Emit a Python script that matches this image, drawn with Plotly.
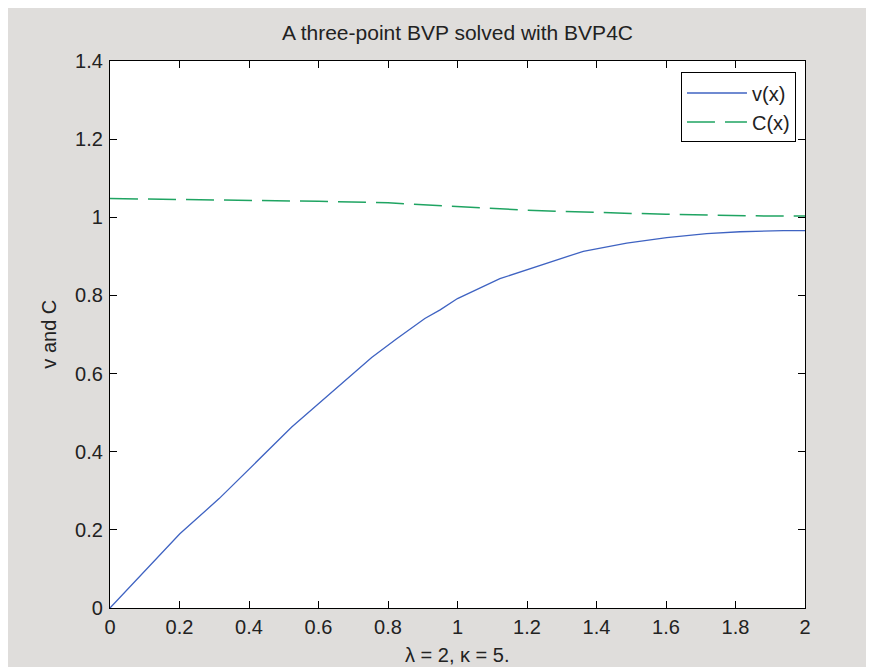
import plotly.graph_objects as go

# ---- data ----
x_v = [0, 0.062, 0.201, 0.314, 0.436, 0.523, 0.595, 0.672, 0.753, 0.825,
       0.906, 0.95, 1.0, 1.122, 1.237, 1.362, 1.487, 1.602, 1.717, 1.813, 1.938, 2.0]
v_vals = [0, 0.058, 0.190, 0.280, 0.386, 0.463, 0.519, 0.578, 0.641, 0.689,
          0.741, 0.763, 0.792, 0.843, 0.877, 0.913, 0.934, 0.948, 0.958, 0.963, 0.966, 0.966]

x_c = [0, 0.2, 0.4, 0.6, 0.8, 0.9, 1.0, 1.1, 1.2, 1.3, 1.4, 1.5, 1.6, 1.7, 1.8, 1.9, 2.0]
c_vals = [1.048, 1.046, 1.043, 1.041, 1.037, 1.032, 1.027, 1.022, 1.018, 1.015,
          1.012, 1.010, 1.008, 1.006, 1.004, 1.003, 1.003]

x_ticks = [0, 0.2, 0.4, 0.6, 0.8, 1, 1.2, 1.4, 1.6, 1.8, 2]
x_tick_labels = ["0", "0.2", "0.4", "0.6", "0.8", "1", "1.2", "1.4", "1.6", "1.8", "2"]
y_ticks = [0, 0.2, 0.4, 0.6, 0.8, 1, 1.2, 1.4]
y_tick_labels = ["0", "0.2", "0.4", "0.6", "0.8", "1", "1.2", "1.4"]

title_text = "A three-point BVP solved with BVP4C"
x_label = "λ = 2, κ = 5."
y_label = "v and C"

FONT = "Liberation Sans, Arial, sans-serif"
GRAY = "#dfdddb"
BLUE = "#3f63c2"
GREEN = "#1fa462"
TXT = "#222222"

W, H = 874, 659  # page body margin of 8px places the figure at (8, 8)

fig = go.Figure()
fig.add_trace(go.Scatter(x=x_v, y=v_vals, mode="lines", name="v(x)",
                         line=dict(color=BLUE, width=1.3)))
fig.add_trace(go.Scatter(x=x_c, y=c_vals, mode="lines", name="C(x)",
                         line=dict(color=GREEN, width=1.5, dash="28px,10px")))

axis_common = dict(showline=True, linecolor="black", linewidth=1.3, mirror="ticks",
                   ticks="inside", ticklen=7, tickwidth=1.3, tickcolor="black",
                   showgrid=False, zeroline=False,
                   tickfont=dict(family=FONT, size=20, color=TXT))

fig.update_xaxes(range=[0, 2], tickvals=x_ticks, ticktext=x_tick_labels,
                 ticklabelstandoff=1, **axis_common)
fig.update_yaxes(range=[0, 1.4], tickvals=y_ticks, ticktext=y_tick_labels,
                 ticklabelstandoff=2, **axis_common)

fig.update_layout(
    width=W, height=H,
    margin=dict(l=102, r=77, t=53, b=59, pad=0),
    paper_bgcolor=GRAY, plot_bgcolor="white",
    showlegend=True,
    legend=dict(x=0.987, y=0.979, xanchor="right", yanchor="top",
                bgcolor="white", bordercolor="black", borderwidth=1,
                font=dict(family=FONT, size=20, color=TXT),
                itemwidth=60, tracegroupgap=0),
    title=dict(text=title_text, x=0.5, xref="paper", xanchor="center",
               y=1 - 25 / H, yref="container", yanchor="middle",
               font=dict(family=FONT, size=21, color=TXT)),
    annotations=[
        dict(text=x_label, xref="paper", yref="paper", x=0.5, y=-0.086,
             xanchor="center", yanchor="middle", showarrow=False,
             font=dict(family=FONT, size=20, color=TXT)),
        dict(text=y_label, xref="paper", yref="paper", x=-0.089, y=0.5,
             xanchor="center", yanchor="middle", textangle=-90, showarrow=False,
             font=dict(family=FONT, size=20, color=TXT)),
    ],
)

fig.write_html("out.html")
